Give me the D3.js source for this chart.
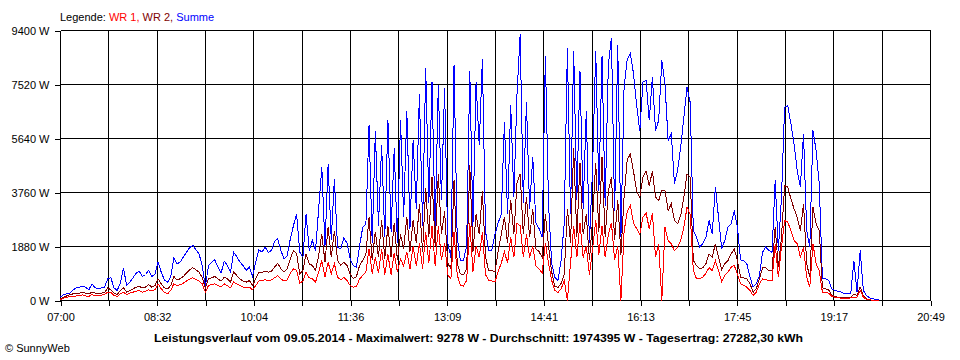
<!DOCTYPE html>
<html><head><meta charset="utf-8">
<script src="https://cdn.jsdelivr.net/npm/d3@7"></script>
<style>
body{margin:0;background:#fff}
svg{display:block;background:#fff}
text{font-family:"Liberation Sans",Arial,sans-serif;font-size:11px;fill:#000}
</style>
</head><body>
<svg id="chart" width="960" height="360"></svg>
<script>
// ---- data ----
const stepMinutes = 3;            // sample spacing (minutes after 07:00)
const totalMinutes = 829;         // 07:00 .. 20:49
const gridDivisions = 18;
const xTickLabels = ["07:00","08:32","10:04","11:36","13:09","14:41","16:13","17:45","19:17","20:49"];
const yTickValues = [0,1880,3760,5640,7520,9400];
const yTickLabels = ["0 W","1880 W","3760 W","5640 W","7520 W","9400 W"];
const seriesNames = ["WR 1","WR 2","Summe"];

const summe = [
120,210,230,255,370,440,465,490,465,370,
580,440,405,440,465,755,790,440,350,600,
1140,520,640,790,950,1020,835,905,1045,835,
905,1335,985,720,640,810,1485,1275,1335,1510,
1680,1835,1925,1765,1625,1220,465,1220,1335,1415,
1160,950,1370,1220,985,1680,1530,1335,1220,1045,
1160,835,1335,1765,1680,1855,1680,1740,2065,2145,
1740,1450,1565,2145,2610,3015,1680,1510,3015,1740,
2090,1740,3190,4640,1900,4760,2100,4235,1855,1800,
2180,2000,1450,1220,1160,1900,2550,2650,6100,2000,
5900,2600,5400,2200,6300,2400,5300,2000,6300,2900,
6600,2500,5600,3200,7200,2600,8100,3400,7600,2500,
7500,3500,7400,2000,1500,8200,2200,1400,1400,1900,
8000,2600,7600,5400,8400,2400,1750,1750,2300,2700,
3000,6200,3000,6800,3600,7200,9278,3400,6900,3200,
5000,2700,2500,2200,8500,3400,1300,800,700,1400,
2700,8800,3000,8700,3500,8000,3200,6600,2000,4600,
8700,3800,8500,3300,8200,9150,3100,8900,2200,7400,
8400,8600,7900,6800,5900,7600,7660,6270,7775,5920,
6270,8355,7540,5570,5800,4060,4526,5340,6380,7430,
6900,2440,2200,1860,1970,2200,2785,2320,3945,2900,
1800,2090,2550,2670,3130,2550,1415,1393,1277,812,
464,580,870,1680,1860,1740,1680,4180,1740,3600,
6730,6790,6150,5450,4526,3945,5800,2437,1857,5920,
5222,4062,754,754,696,406,348,325,290,232,
232,232,1390,290,1740,348,174,93,58,46,23
];

const wr2 = [
60,115,160,210,230,255,255,290,255,230,
290,255,230,255,280,440,370,255,210,350,
440,290,350,405,465,490,440,465,555,465,
520,755,580,440,405,520,835,720,755,835,
950,1070,1140,1070,985,810,440,755,790,835,
755,675,810,755,640,985,870,755,675,640,
695,520,755,985,985,1020,985,1020,1160,1300,
1100,985,1100,1450,1740,1625,930,1045,1625,1275,
1220,1045,1565,2320,1335,2550,1510,2435,1390,1230,
1335,1220,930,760,835,1220,1400,1600,2900,1400,
2400,1500,2800,1450,2600,1500,2700,1400,2300,1800,
2900,1700,2800,2000,3350,1700,3900,2200,4300,1900,
4400,2300,3100,1300,1100,4200,1300,930,900,1100,
4700,1700,3000,2300,3800,1500,1050,1050,1000,1700,
2300,2900,2000,3500,2300,4100,4400,2300,3600,2200,
3200,1800,1700,1500,3000,1900,1000,500,450,600,
900,3200,2000,5300,2200,4800,2300,3000,1400,2800,
4800,2400,5000,2200,3800,4300,2100,3500,1600,3600,
4900,5100,4500,3800,3600,4300,4500,4000,4500,3600,
3480,3830,3830,3130,3365,2785,2670,2960,3600,4410,
4300,1390,1220,1100,1140,1277,1625,1510,1970,1510,
1070,1277,1390,1625,1800,1390,812,790,755,580,
290,406,755,1140,1140,1044,1044,2550,1160,2200,
4000,3945,3540,3190,2900,2437,3365,1277,812,3250,
2670,2437,440,406,371,174,139,116,116,93,
93,116,232,174,464,174,58,23,12,0,0
];

const wr1 = [
35,80,115,140,140,160,160,200,160,140,
210,160,160,185,210,290,290,175,140,230,
290,210,255,290,325,350,290,325,370,350,
370,580,405,290,230,350,580,520,545,605,
675,745,790,730,675,580,290,520,555,580,
520,465,580,520,440,640,580,520,465,440,
465,370,520,675,695,720,695,720,790,870,
755,675,720,950,1100,1045,605,675,985,790,
755,640,985,1390,810,1335,930,1275,810,720,
800,700,520,465,490,755,870,1000,1800,930,
1500,950,1800,900,1600,900,1650,1000,1450,1200,
1700,1100,1900,1200,2000,1100,2400,1300,2600,1200,
2600,1400,2000,900,750,2400,900,520,500,700,
2700,1000,1900,1500,2400,900,700,680,650,1000,
1300,1700,1300,2200,1500,2700,2600,1500,2300,1500,
1900,1200,1100,950,2000,1300,700,350,280,400,
700,0,1300,2600,1500,2700,1500,1900,900,1800,
2800,1600,2600,1500,2300,2700,1400,1900,0,2400,
3100,3300,2700,2500,2300,2900,3050,2500,3050,1500,
1970,0,2550,2090,1970,1740,1860,2090,2550,3250,
3000,1044,755,755,810,950,1140,1044,1390,1044,
670,870,985,1160,1220,928,580,522,464,348,
174,290,580,755,720,696,696,1970,812,1860,
2785,2727,2437,2090,1973,1509,1857,812,464,1973,
1277,1044,290,290,255,139,116,93,81,70,
70,93,116,116,348,116,46,23,12,0,0
];

const titleText = "Leistungsverlauf vom 09.05.2014 - Maximalwert: 9278 W - Durchschnitt: 1974395 W - Tagesertrag: 27282,30 kWh";
const creditText = "\u00A9 SunnyWeb";
const legendLabel = "Legende: ";

// ---- styles ----
const colors = {"WR 1":"#ff0000","WR 2":"#800000","Summe":"#0000ff"};

// ---- drawing ----
const svg = d3.select("#chart");
const x = d3.scaleLinear().domain([0,totalMinutes]).range([60.5,930.5]);
const y = d3.scaleLinear().domain([0,9400]).range([300.5,30.5]);
const gridVals = d3.range(gridDivisions+1).map(k => k*totalMinutes/gridDivisions);

// grid
const g = svg.append("g").attr("shape-rendering","crispEdges");
g.selectAll("line.v").data(gridVals).enter().append("line")
  .attr("x1",d=>x(d)).attr("x2",d=>x(d)).attr("y1",y(9400)).attr("y2",y(0))
  .attr("stroke","#000").attr("stroke-width",1);
g.selectAll("line.h").data(yTickValues).enter().append("line")
  .attr("x1",x(0)).attr("x2",x(totalMinutes)).attr("y1",d=>y(d)).attr("y2",d=>y(d))
  .attr("stroke","#000").attr("stroke-width",1);

// series (Summe drawn first, WR 1 last)
const seriesData = {"WR 1":wr1,"WR 2":wr2,"Summe":summe};
const line = d3.line().x((d,i)=>x(i*stepMinutes)).y(d=>y(d)).curve(d3.curveLinear);
["Summe","WR 2","WR 1"].forEach(name=>{
  svg.append("path").datum(seriesData[name])
    .attr("d",line).attr("fill","none").attr("stroke",colors[name])
    .attr("stroke-width",1).attr("shape-rendering","crispEdges");
});

// axes
const xAxis = d3.axisBottom(x).tickValues(gridVals).tickSize(5).tickPadding(8)
  .tickFormat((d,i)=> i%2===0 ? xTickLabels[i/2] : "");
const xa = svg.append("g").attr("transform",`translate(0,${y(0)})`).call(xAxis);
const ya = svg.append("g").attr("transform",`translate(${x(0)},0)`)
  .call(d3.axisLeft(y).tickValues(yTickValues).tickSize(6).tickPadding(5)
  .tickFormat((d,i)=>yTickLabels[i]));
[xa,ya].forEach(a=>{
  a.select(".domain").remove();
  a.attr("font-family",null).attr("font-size",null);
  a.selectAll("line").attr("stroke","#000").attr("shape-rendering","crispEdges");
  a.selectAll("text").attr("fill","#000");
});

// legend
const lg = svg.append("text").attr("x",60).attr("y",21);
lg.append("tspan").text(legendLabel);
seriesNames.forEach((n,i)=>{
  lg.append("tspan").attr("fill",colors[n]).text((i>0?" ":"")+n+(i<seriesNames.length-1?",":""));
});

// title & credit
svg.append("text").attr("x",154).attr("y",342)
  .attr("font-weight","bold").attr("textLength",649).attr("lengthAdjust","spacingAndGlyphs")
  .text(titleText);
svg.append("text").attr("x",5).attr("y",352).text(creditText);
</script>
</body></html>
